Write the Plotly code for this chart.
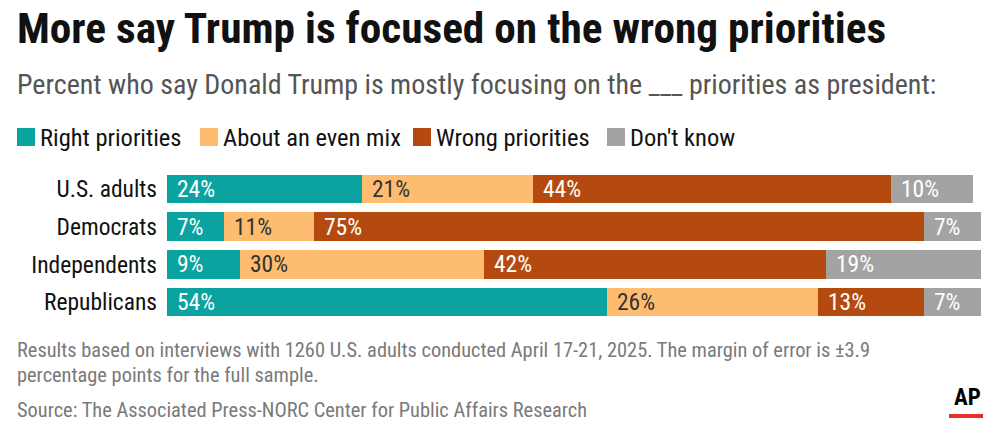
import plotly.graph_objects as go

categories = ["U.S. adults", "Democrats", "Independents", "Republicans"]
series_names = ["Right priorities", "About an even mix", "Wrong priorities", "Don't know"]
right = [24, 7, 9, 54]
mix = [21, 11, 30, 26]
wrong = [44, 75, 42, 13]
dont_know = [10, 7, 19, 7]

colors = ["#0BA3A0", "#FEBC70", "#B54A10", "#A3A3A3"]
label_colors = ["#FFFFFF", "#333333", "#FFFFFF", "#FFFFFF"]

W, H = 999, 431
ML, MR, MT, MB = 167, 18, 170, 110
PW, PH = W - ML - MR, H - MT - MB

def px2x(px):
    return (px - ML) / PW

def px2y(py):
    return (H - MB - py) / PH

FONT = "Roboto Condensed, Open Sans Condensed, sans-serif"

series = [right, mix, wrong, dont_know]
fig = go.Figure()
for name, vals, col in zip(series_names, series, colors):
    fig.add_trace(go.Bar(
        y=categories, x=vals, name=name, orientation="h",
        marker=dict(color=col, line=dict(width=0)),
        showlegend=False, hoverinfo="x+name",
    ))

annotations = []
# bar value labels
for ci, cat in enumerate(categories):
    start = 0
    for si, vals in enumerate(series):
        annotations.append(dict(
            x=start, y=cat, xref="x", yref="y", text=f"{vals[ci]}%",
            showarrow=False, xanchor="left", yanchor="middle", xshift=8, yshift=0,
            font=dict(family=FONT, size=23.5, color=label_colors[si]),
        ))
        start += vals[ci]

# title, subtitle
annotations.append(dict(
    x=px2x(15), y=px2y(28), xref="paper", yref="paper",
    text="<b>More say Trump is focused on the wrong priorities</b>",
    showarrow=False, xanchor="left", yanchor="middle",
    font=dict(family=FONT, size=43.3, color="#111111"),
))
annotations.append(dict(
    x=px2x(15), y=px2y(84), xref="paper", yref="paper",
    text="Percent who say Donald Trump is mostly focusing on the ___ priorities as president:",
    showarrow=False, xanchor="left", yanchor="middle",
    font=dict(family=FONT, size=28, color="#555555"),
))

# legend (manual)
shapes = []
legend_x = [17, 200, 413, 607]
for lx, name, col in zip(legend_x, series_names, colors):
    shapes.append(dict(
        type="rect", xref="paper", yref="paper",
        x0=px2x(lx), x1=px2x(lx + 18), y0=px2y(146), y1=px2y(128),
        fillcolor=col, line=dict(width=0),
    ))
    annotations.append(dict(
        x=px2x(lx + 21), y=px2y(137.5), xref="paper", yref="paper",
        text=name, showarrow=False, xanchor="left", yanchor="middle",
        font=dict(family=FONT, size=24.5, color="#111111"),
    ))

# footer
footer_lines = [
    ("Results based on interviews with 1260 U.S. adults conducted April 17-21, 2025. The margin of error is ±3.9", 350),
    ("percentage points for the full sample.", 375),
    ("Source: The Associated Press-NORC Center for Public Affairs Research", 410),
]
for txt, yc in footer_lines:
    annotations.append(dict(
        x=px2x(15), y=px2y(yc), xref="paper", yref="paper",
        text=txt, showarrow=False, xanchor="left", yanchor="middle",
        font=dict(family=FONT, size=20.4, color="#7A7A7A"),
    ))

# AP logo
annotations.append(dict(
    x=px2x(967), y=px2y(397), xref="paper", yref="paper",
    text="<b>AP</b>", showarrow=False, xanchor="center", yanchor="middle",
    font=dict(family="Roboto Condensed, sans-serif", size=23, color="#000000"),
))
shapes.append(dict(
    type="rect", xref="paper", yref="paper",
    x0=px2x(949), x1=px2x(983), y0=px2y(418), y1=px2y(414),
    fillcolor="#EE2B2B", line=dict(width=0),
))

fig.update_layout(
    barmode="stack", bargap=0.24,
    width=W, height=H,
    margin=dict(l=ML, r=MR, t=MT, b=MB, pad=0),
    paper_bgcolor="#FFFFFF", plot_bgcolor="#FFFFFF",
    xaxis=dict(range=[0, 100], visible=False, fixedrange=True),
    yaxis=dict(
        categoryorder="array", categoryarray=categories,
        range=[3.5, -0.5], showgrid=False, zeroline=False, showline=False,
        ticks="", ticklabelstandoff=9,
        tickfont=dict(family=FONT, size=23.5, color="#111111"),
        fixedrange=True,
    ),
    annotations=annotations, shapes=shapes,
    showlegend=False,
)

fig.write_html("out.html", config={"displayModeBar": False},
               post_script="document.body.style.margin='0';")
